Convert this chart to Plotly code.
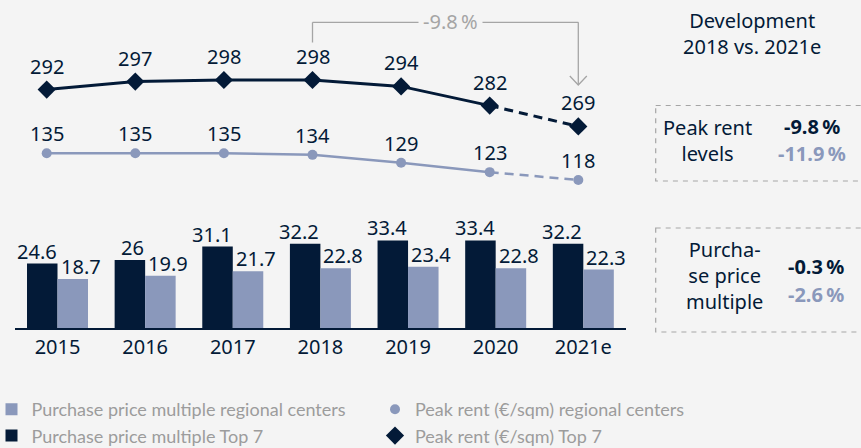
import plotly.graph_objects as go

# ---------------- data ----------------
years = ["2015", "2016", "2017", "2018", "2019", "2020", "2021e"]
ppm_top7 = [24.6, 26, 31.1, 32.2, 33.4, 33.4, 32.2]
ppm_regional = [18.7, 19.9, 21.7, 22.8, 23.4, 22.8, 22.3]
rent_top7 = [292, 297, 298, 298, 294, 282, 269]
rent_regional = [135, 135, 135, 134, 129, 123, 118]

dev_title = "Development<br>2018 vs. 2021e"
dev_rent_label = "Peak rent<br>levels"
dev_rent_top7 = "-9.8\u202f%"
dev_rent_regional = "-11.9\u202f%"
dev_ppm_label = "Purcha-<br>se price<br>multiple"
dev_ppm_top7 = "-0.3\u202f%"
dev_ppm_regional = "-2.6\u202f%"
bracket_label = "-9.8\u202f%"

names = {
    "ppm_regional": "Purchase price multiple regional centers",
    "ppm_top7": "Purchase price multiple Top 7",
    "rent_regional": "Peak rent (€/sqm) regional centers",
    "rent_top7": "Peak rent (€/sqm) Top 7",
}

# ---------------- style ----------------
W, H = 861, 448
NAVY = "#031a37"
LIGHT = "#8a98bb"
GRAY = "#a5a5a5"
BG = "#f4f4f4"
FONT = "Noto Sans"
LEG_FONT = "Lato"


def px(p):
    return p / W


def py(p):
    return 1 - p / H


fig = go.Figure()

# bars
fig.add_trace(go.Bar(x=years, y=ppm_top7, name=names["ppm_top7"], marker_color=NAVY,
                     marker_line_width=0, xaxis="x", yaxis="y", legend="legend", legendrank=2))
fig.add_trace(go.Bar(x=years, y=ppm_regional, name=names["ppm_regional"], marker_color=LIGHT,
                     marker_line_width=0, xaxis="x", yaxis="y", legend="legend", legendrank=1))

# lines: solid part (actuals) and dashed part (estimate)
n_act = len(years) - 1
for vals, color, lw, ax in [(rent_top7, NAVY, 3, "y2"), (rent_regional, LIGHT, 2.5, "y3")]:
    fig.add_trace(go.Scatter(x=years[:n_act], y=vals[:n_act], mode="lines",
                             line=dict(color=color, width=lw), showlegend=False,
                             xaxis="x2", yaxis=ax, hoverinfo="skip"))
    fig.add_trace(go.Scatter(x=years[n_act - 1:], y=vals[n_act - 1:], mode="lines",
                             line=dict(color=color, width=lw, dash="9px,6px"), showlegend=False,
                             xaxis="x2", yaxis=ax, hoverinfo="skip"))

fig.add_trace(go.Scatter(x=years, y=rent_top7, mode="markers", name=names["rent_top7"],
                         marker=dict(symbol="diamond", size=14, color=NAVY),
                         xaxis="x2", yaxis="y2", legend="legend2", legendrank=2))
fig.add_trace(go.Scatter(x=years, y=rent_regional, mode="markers", name=names["rent_regional"],
                         marker=dict(symbol="circle", size=10, color=LIGHT),
                         xaxis="x2", yaxis="y3", legend="legend2", legendrank=1))

annotations = []


def fmt(v):
    return f"{v:g}"


# bar labels
for i, (a, b) in enumerate(zip(ppm_top7, ppm_regional)):
    annotations.append(dict(x=i, y=a, xref="x", yref="y", text=fmt(a), showarrow=False,
                            xanchor="right", yanchor="bottom", xshift=1, yshift=-3,
                            font=dict(family=FONT, size=20, color=NAVY)))
    annotations.append(dict(x=i, y=b, xref="x", yref="y", text=fmt(b), showarrow=False,
                            xanchor="left", yanchor="bottom", xshift=1, yshift=-3,
                            font=dict(family=FONT, size=20, color=NAVY)))

# line labels
for i, v in enumerate(rent_top7):
    annotations.append(dict(x=i, y=v, xref="x2", yref="y2", text=fmt(v), showarrow=False,
                            xanchor="center", yanchor="bottom", yshift=8,
                            font=dict(family=FONT, size=20, color=NAVY)))
for i, v in enumerate(rent_regional):
    annotations.append(dict(x=i, y=v, xref="x2", yref="y3", text=fmt(v), showarrow=False,
                            xanchor="center", yanchor="bottom", yshift=4,
                            font=dict(family=FONT, size=20, color=NAVY)))

# bracket label
annotations.append(dict(x=px(450.4), y=py(21.7), xref="paper", yref="paper", text=bracket_label,
                        showarrow=False, xanchor="center", yanchor="middle", bgcolor=BG, borderpad=4,
                        font=dict(family=FONT, size=20, color=GRAY)))

# right panel
annotations.append(dict(x=px(752), y=py(34), xref="paper", yref="paper", text=dev_title,
                        showarrow=False, xanchor="center", yanchor="middle", align="center",
                        font=dict(family=FONT, size=20, color=NAVY)))
annotations.append(dict(x=px(707), y=py(140), xref="paper", yref="paper", text=dev_rent_label,
                        showarrow=False, xanchor="center", yanchor="middle", align="center",
                        font=dict(family=FONT, size=20, color=NAVY)))
annotations.append(dict(x=px(812), y=py(126.7), xref="paper", yref="paper", text="<b>" + dev_rent_top7 + "</b>",
                        showarrow=False, xanchor="center", yanchor="middle",
                        font=dict(family=FONT, size=20, color=NAVY)))
annotations.append(dict(x=px(812), y=py(153.3), xref="paper", yref="paper", text="<b>" + dev_rent_regional + "</b>",
                        showarrow=False, xanchor="center", yanchor="middle",
                        font=dict(family=FONT, size=20, color=LIGHT)))
annotations.append(dict(x=px(724.5), y=py(275.5), xref="paper", yref="paper", text=dev_ppm_label,
                        showarrow=False, xanchor="center", yanchor="middle", align="center",
                        font=dict(family=FONT, size=20, color=NAVY)))
annotations.append(dict(x=px(815.8), y=py(266.7), xref="paper", yref="paper", text="<b>" + dev_ppm_top7 + "</b>",
                        showarrow=False, xanchor="center", yanchor="middle",
                        font=dict(family=FONT, size=20, color=NAVY)))
annotations.append(dict(x=px(815.8), y=py(294), xref="paper", yref="paper", text="<b>" + dev_ppm_regional + "</b>",
                        showarrow=False, xanchor="center", yanchor="middle",
                        font=dict(family=FONT, size=20, color=LIGHT)))

# shapes: bracket and dashed boxes
i18 = years.index("2018")
i21 = years.index("2021e")
chev_dx = 8.5 / 88.6
gl = dict(color=GRAY, width=1.3)
shapes = [
    dict(type="line", xref="x2", yref="paper", x0=i18, x1=i18, y0=py(42.5), y1=py(22.3), line=gl),
    dict(type="line", xref="x2", yref="paper", x0=i18, x1=i21, y0=py(22.3), y1=py(22.3), line=gl),
    dict(type="line", xref="x2", yref="paper", x0=i21, x1=i21, y0=py(22.3), y1=py(85), line=gl),
    dict(type="path", xref="x2", yref="paper",
         path=f"M {i21 - chev_dx},{py(76)} L {i21},{py(85)} L {i21 + chev_dx},{py(76)}", line=gl),
    dict(type="rect", xref="paper", yref="paper", x0=px(655.7), x1=1.05, y0=py(105.5), y1=py(181),
         line=dict(color=GRAY, width=1.2, dash="5px,5px")),
    dict(type="rect", xref="paper", yref="paper", x0=px(655.7), x1=1.05, y0=py(228), y1=py(332),
         line=dict(color=GRAY, width=1.2, dash="5px,5px")),
]

# axes geometry
bar_px_per_unit = 2.62
bar_top, bar_base = 200, 328
line_top, line_bot = 30, 210
t7_ppu, rg_ppu = 1.6, 1.57
t7_top = 298 + (80 - line_top) / t7_ppu
t7_bot = t7_top - (line_bot - line_top) / t7_ppu
rg_top = 135 + (153.3 - line_top) / rg_ppu
rg_bot = rg_top - (line_bot - line_top) / rg_ppu

leg_font = dict(family=LEG_FONT, size=18, color="#9c9c9c")

fig.update_layout(
    width=W, height=H, autosize=False,
    margin=dict(l=0, r=0, t=0, b=0, autoexpand=False),
    paper_bgcolor=BG, plot_bgcolor=BG,
    barmode="group", bargap=0.304, bargroupgap=0,
    xaxis=dict(domain=[px(15), px(626)], type="category", range=[-0.485, 6.487],
               showline=True, linecolor=NAVY, linewidth=1.5, ticks="", showgrid=False,
               zeroline=False, tickfont=dict(family=FONT, size=20, color=NAVY), anchor="y",
               fixedrange=True, automargin=False),
    yaxis=dict(domain=[py(bar_base), py(bar_top)], range=[0, (bar_base - bar_top) / bar_px_per_unit],
               visible=False, fixedrange=True),
    xaxis2=dict(domain=[px(2.4), px(622.6)], type="category", range=[-0.5, 6.5], visible=False,
                anchor="y2", fixedrange=True),
    yaxis2=dict(domain=[py(line_bot), py(line_top)], range=[t7_bot, t7_top], visible=False,
                anchor="x2", fixedrange=True),
    yaxis3=dict(domain=[py(line_bot), py(line_top)], range=[rg_bot, rg_top], visible=False,
                anchor="x2", overlaying="y2", fixedrange=True),
    legend=dict(x=px(-8.5), y=py(391), xanchor="left", yanchor="top", orientation="v",
                font=leg_font, bgcolor="rgba(0,0,0,0)", itemwidth=30, traceorder="normal"),
    legend2=dict(x=px(375), y=py(391), xanchor="left", yanchor="top", orientation="v",
                 font=leg_font, bgcolor="rgba(0,0,0,0)", itemwidth=30, traceorder="normal"),
    annotations=annotations,
    shapes=shapes,
    showlegend=True,
)

fig.write_html("out.html", config={"displayModeBar": False},
               post_script="document.body.style.margin='0';document.body.style.overflow='hidden';")
